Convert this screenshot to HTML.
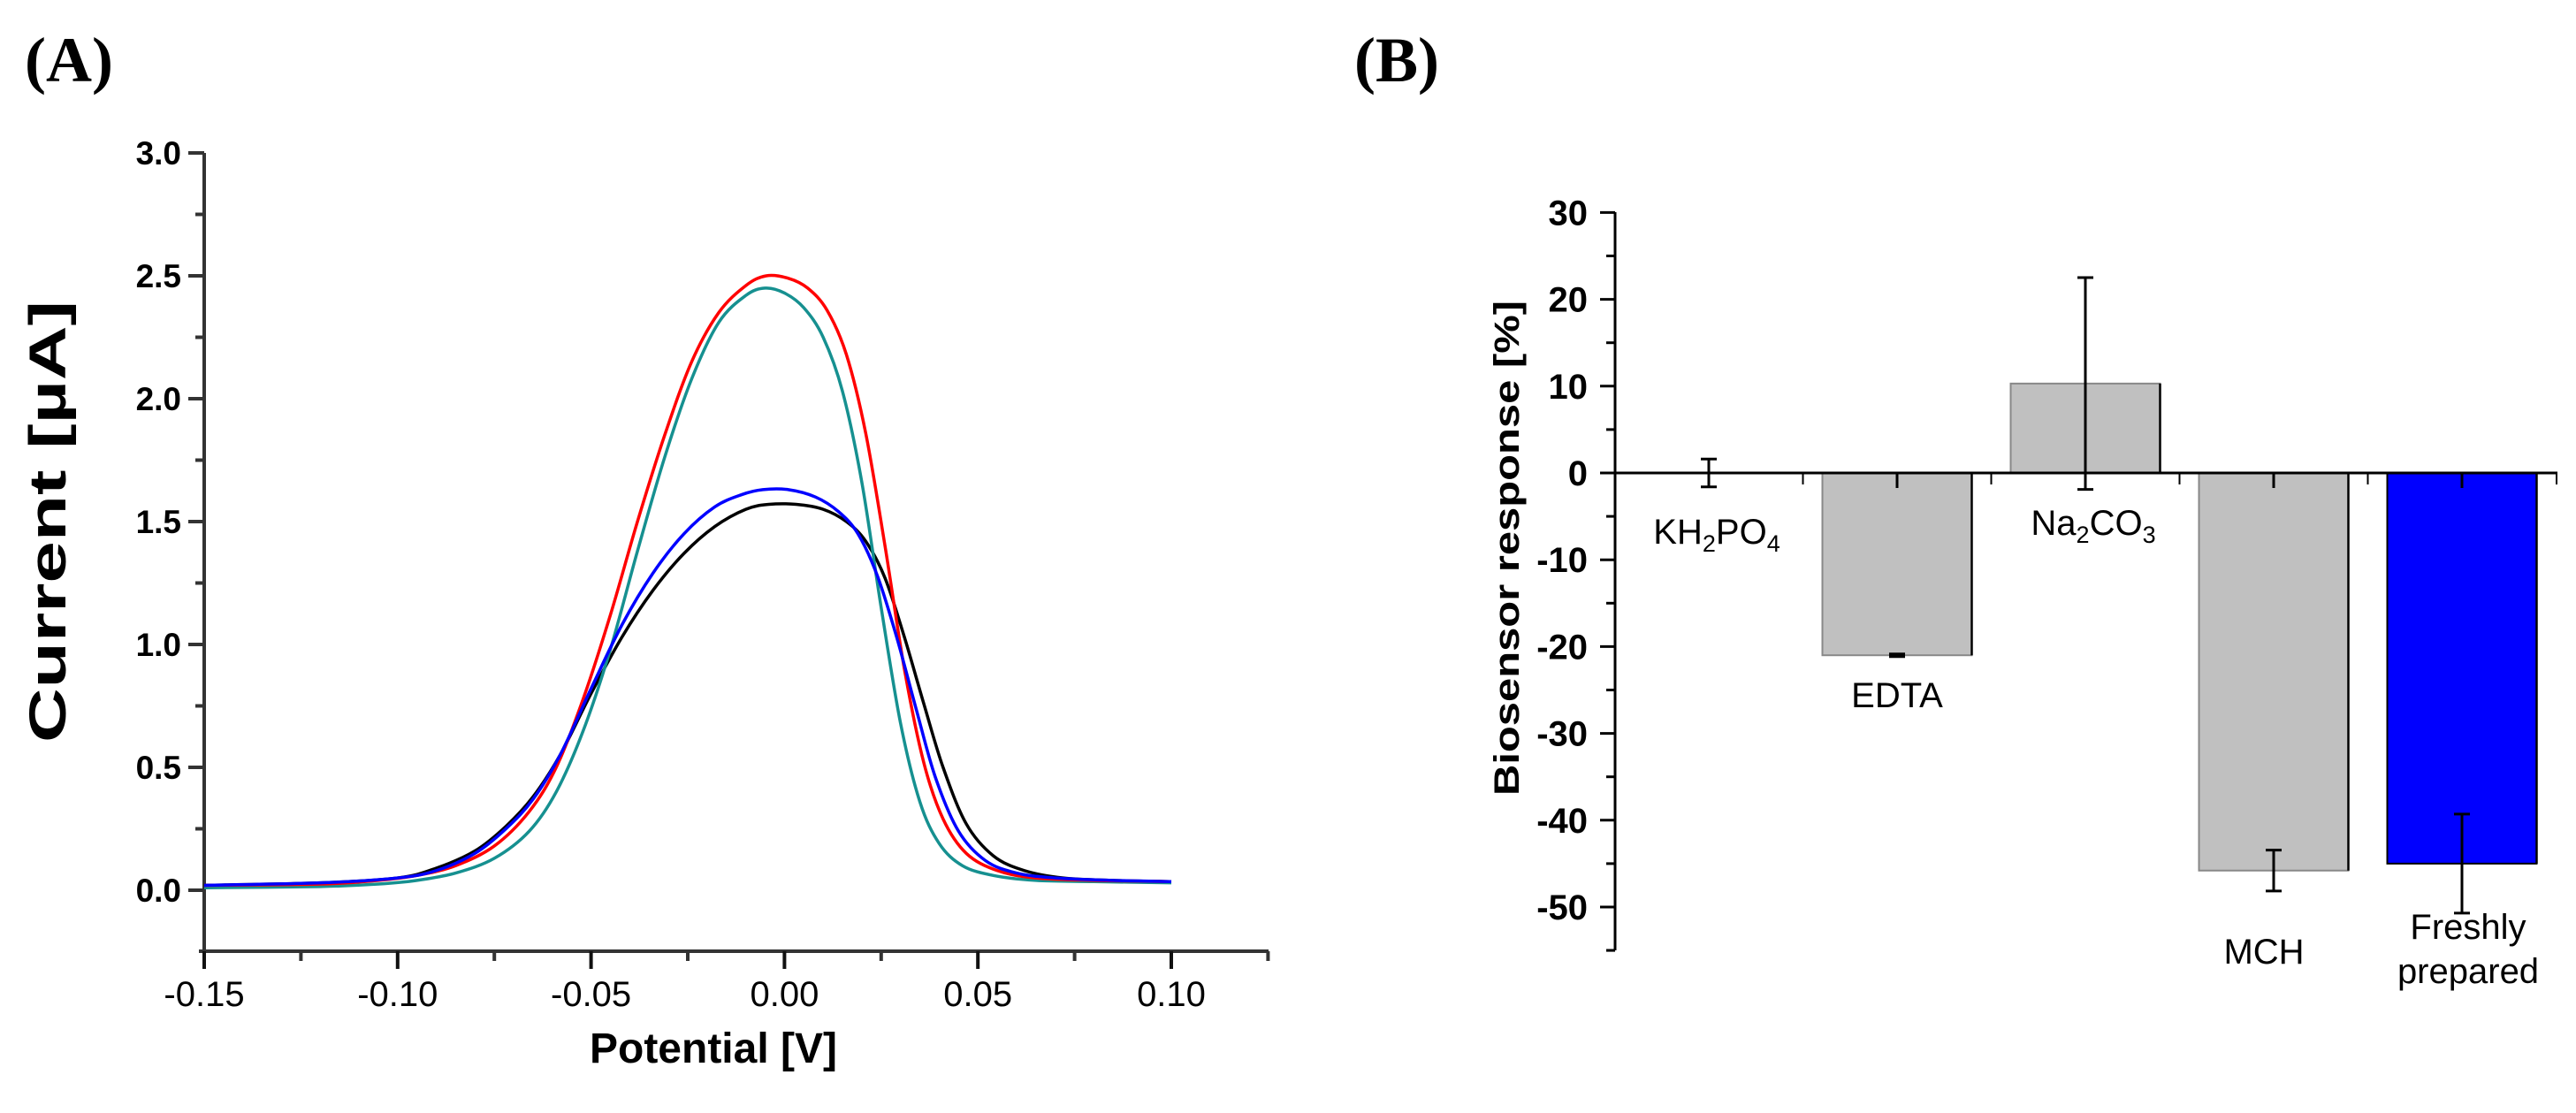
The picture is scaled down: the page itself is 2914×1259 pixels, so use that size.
<!DOCTYPE html>
<html><head><meta charset="utf-8"><style>
html,body{margin:0;padding:0;background:#fff;}
svg{display:block;font-family:"Liberation Sans",Arial,sans-serif;}
</style></head><body>
<svg id="fig" width="2914" height="1259" viewBox="0 0 2914 1259" xmlns="http://www.w3.org/2000/svg">
<rect width="2914" height="1259" fill="#fff"/>
<text x="28" y="92" font-family="Liberation Serif,serif" font-weight="bold" font-size="72">(A)</text>
<text x="1532" y="92" font-family="Liberation Serif,serif" font-weight="bold" font-size="72">(B)</text>
<g id="pa"></g>
<g id="pb"></g>
</svg>
<script>
// ---------- Panel A data ----------
const aYTicks = [0.0, 0.5, 1.0, 1.5, 2.0, 2.5, 3.0];
const aXTicks = [-0.15, -0.10, -0.05, 0.00, 0.05, 0.10];
const aXTickLabels = ["-0.15", "-0.10", "-0.05", "0.00", "0.05", "0.10"];
const redX   = [-0.15,-0.12,-0.105,-0.095,-0.085,-0.075,-0.066,-0.059,-0.052,-0.045,-0.038,-0.031,-0.024,-0.017,-0.010,-0.0047,0.001,0.006,0.011,0.016,0.021,0.026,0.031,0.036,0.041,0.047,0.055,0.065,0.08,0.10];
const redY   = [0.02,0.025,0.04,0.06,0.1,0.18,0.32,0.5,0.78,1.12,1.5,1.85,2.15,2.35,2.46,2.50,2.49,2.45,2.36,2.18,1.86,1.4,0.9,0.52,0.29,0.15,0.08,0.05,0.04,0.035];
const tealX  = [-0.15,-0.12,-0.105,-0.095,-0.085,-0.075,-0.066,-0.059,-0.052,-0.045,-0.038,-0.031,-0.024,-0.017,-0.010,-0.005,0.000,0.005,0.010,0.015,0.020,0.025,0.030,0.035,0.040,0.046,0.054,0.065,0.08,0.10];
const tealY  = [0.01,0.015,0.025,0.04,0.07,0.13,0.24,0.4,0.65,0.98,1.38,1.76,2.08,2.31,2.42,2.45,2.43,2.37,2.25,2.03,1.66,1.15,0.68,0.36,0.19,0.1,0.06,0.04,0.035,0.03];
const blueX  = [-0.15,-0.12,-0.10,-0.09,-0.08,-0.072,-0.065,-0.058,-0.050,-0.042,-0.034,-0.026,-0.018,-0.011,-0.0056,0.001,0.008,0.014,0.019,0.024,0.029,0.034,0.039,0.045,0.052,0.06,0.07,0.085,0.10];
const blueY  = [0.02,0.03,0.05,0.08,0.15,0.25,0.37,0.55,0.82,1.08,1.29,1.45,1.56,1.61,1.63,1.63,1.6,1.54,1.45,1.28,1.03,0.74,0.46,0.24,0.12,0.07,0.05,0.04,0.035];
const blackX = [-0.15,-0.12,-0.10,-0.09,-0.08,-0.072,-0.065,-0.058,-0.050,-0.042,-0.034,-0.026,-0.018,-0.010,-0.004,0.003,0.010,0.016,0.021,0.026,0.031,0.036,0.041,0.047,0.054,0.062,0.072,0.085,0.10];
const blackY = [0.02,0.03,0.05,0.09,0.16,0.26,0.38,0.55,0.8,1.03,1.22,1.37,1.48,1.55,1.57,1.57,1.55,1.5,1.42,1.27,1.03,0.76,0.5,0.27,0.14,0.08,0.05,0.04,0.035];
// ---------- Panel B data ----------
const bCats = ["KH2PO4","EDTA","Na2CO3","MCH","Freshly prepared"];
const bVals = [0, -21, 10.3, -45.8, -45];
const bErrs = [1.6, 0.15, 12.2, 2.35, 5.7];
const bYTicks = [30,20,10,0,-10,-20,-30,-40,-50];

const NS="http://www.w3.org/2000/svg";
function mk(parent,tag,attrs){const e=document.createElementNS(NS,tag);for(const k in attrs)e.setAttribute(k,attrs[k]);parent.appendChild(e);return e;}

// ---- Panel A ----
const pa=document.getElementById('pa');
const ax=v=>231+(v+0.15)*4376;
const ay=v=>1007-v*278;
const axisA=mk(pa,'path',{d:`M231 173 V1076 M225 1076 H1435`,stroke:'#333',fill:'none','stroke-width':4});


for(let i=0;i<aYTicks.length;i++){
  const y=ay(aYTicks[i]);
  mk(pa,'line',{x1:213,x2:231,y1:y,y2:y,stroke:'#333','stroke-width':4});
  const t=mk(pa,'text',{x:205,y:y+13,'text-anchor':'end','font-size':37,'font-weight':'bold'});
  t.textContent=aYTicks[i].toFixed(1);
  
  
  if(i<aYTicks.length-1){const ym=ay(aYTicks[i]+0.25);mk(pa,'line',{x1:221,x2:231,y1:ym,y2:ym,stroke:'#333','stroke-width':4});}
}
for(let i=0;i<aXTicks.length;i++){
  const x=ax(aXTicks[i]);
  mk(pa,'line',{x1:x,x2:x,y1:1076,y2:1096,stroke:'#111','stroke-width':4});
  const xm=ax(aXTicks[i]+0.025);
  mk(pa,'line',{x1:xm,x2:xm,y1:1076,y2:1087,stroke:'#333','stroke-width':4});
  const t=mk(pa,'text',{x:x,y:1138,'text-anchor':'middle','font-size':40});
  t.textContent=aXTickLabels[i];
  
  
}
const xt=mk(pa,'text',{x:807,y:1202,'text-anchor':'middle','font-size':48,'font-weight':'bold'});
xt.textContent='Potential [V]';


const yt=mk(pa,'text',{x:0,y:0,'text-anchor':'middle','font-size':58,'font-weight':'bold',textLength:500,lengthAdjust:'spacingAndGlyphs',transform:'translate(74,590) rotate(-90)'});
yt.textContent='Current [µA]';


function smooth(xs,ys){
  const p=xs.map((x,i)=>[ax(x),ay(ys[i])]);
  let d=`M${p[0][0]} ${p[0][1]}`;
  for(let i=0;i<p.length-1;i++){
    const p0=p[Math.max(0,i-1)],p1=p[i],p2=p[i+1],p3=p[Math.min(p.length-1,i+2)];
    const c1=[p1[0]+(p2[0]-p0[0])/6,p1[1]+(p2[1]-p0[1])/6];
    const c2=[p2[0]-(p3[0]-p1[0])/6,p2[1]-(p3[1]-p1[1])/6];
    d+=` C${c1[0]} ${c1[1]} ${c2[0]} ${c2[1]} ${p2[0]} ${p2[1]}`;
  }
  return d;
}
const series=[[blackX,blackY,'#000','black-curve'],[tealX,tealY,'#169090','teal-curve'],[redX,redY,'#ff0000','red-curve'],[blueX,blueY,'#0000ff','blue-curve']];
series.forEach(s=>{
  const e=mk(pa,'path',{d:smooth(s[0],s[1]),stroke:s[2],fill:'none','stroke-width':3.5});
  
  
});

// ---- Panel B ----
const pb=document.getElementById('pb');
const by=v=>535-v*9.82;
const bcx=i=>1933+i*213;
const bw=169;
const axisB=mk(pb,'path',{d:`M1827 240 V1075`,stroke:'#000',fill:'none','stroke-width':3});


bYTicks.forEach(v=>{
  const y=by(v);
  mk(pb,'line',{x1:1810,x2:1827,y1:y,y2:y,stroke:'#000','stroke-width':3});
  const t=mk(pb,'text',{x:1796,y:y+14,'text-anchor':'end','font-size':40,'font-weight':'bold'});
  t.textContent=String(v);
  
  
  const ym=by(v-5);
  if(v>-55) mk(pb,'line',{x1:1817,x2:1827,y1:ym,y2:ym,stroke:'#000','stroke-width':3});
});
mk(pb,'line',{x1:1817,x2:1827,y1:1075,y2:1075,stroke:'#000','stroke-width':3});
const byt=mk(pb,'text',{x:0,y:0,'text-anchor':'middle','font-size':40,'font-weight':'bold',textLength:560,lengthAdjust:'spacingAndGlyphs',transform:'translate(1718,620) rotate(-90)'});
byt.textContent='Biosensor response [%]';


for(let i=0;i<bCats.length;i++){
  const cx=bcx(i),v=bVals[i];
  if(i>0){
    const r=mk(pb,'rect',{x:cx-bw/2,y:Math.min(by(v),by(0)),width:bw,height:Math.abs(by(v)-by(0)),fill:i===4?'#0000ff':'#c0c0c0',stroke:i===4?'#000':'#888','stroke-width':2});
    
    
    mk(pb,'line',{x1:cx+bw/2,x2:cx+bw/2,y1:by(0),y2:by(v),stroke:'#000','stroke-width':2.5});
  }
  const e=bErrs[i];
  const eb=mk(pb,'path',{d:`M${cx} ${by(v+e)} V${by(v-e)} M${cx-9} ${by(v+e)} H${cx+9} M${cx-9} ${by(v-e)} H${cx+9}`,stroke:'#000','stroke-width':3,fill:'none'});
  
  
  if(i>0) mk(pb,'line',{x1:cx,x2:cx,y1:by(0),y2:by(0)+17,stroke:'#000','stroke-width':3});
  if(i<bCats.length-1){const bx=cx+106.5;mk(pb,'line',{x1:bx,x2:bx,y1:by(0),y2:by(0)+13,stroke:'#000','stroke-width':2});}
}
const zl=mk(pb,'line',{x1:1810,x2:2893,y1:by(0),y2:by(0),stroke:'#000','stroke-width':3});


mk(pb,'line',{x1:2892,x2:2892,y1:by(0),y2:by(0)+13,stroke:'#000','stroke-width':2});
const labels=[
 ['KH<tspan font-size="27" dy="9">2</tspan><tspan dy="-9">PO</tspan><tspan font-size="27" dy="9">4</tspan>',1942,615,'label-kh2po4'],
 ['EDTA',2146,800,'label-edta'],
 ['Na<tspan font-size="27" dy="9">2</tspan><tspan dy="-9">CO</tspan><tspan font-size="27" dy="9">3</tspan>',2368,605,'label-na2co3'],
 ['MCH',2561,1090,'label-mch'],
 ['Freshly',2792,1062,'label-freshly'],
 ['prepared',2792,1112,'label-prepared']];
labels.forEach(l=>{
  const t=mk(pb,'text',{x:l[1],y:l[2],'text-anchor':'middle','font-size':40});
  t.innerHTML=l[0];
  
  
});
</script>
</body></html>
